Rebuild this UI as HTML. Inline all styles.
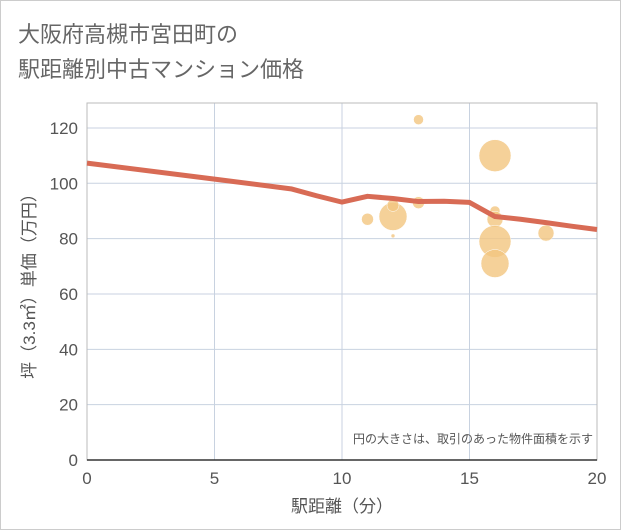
<!DOCTYPE html>
<html><head><meta charset="utf-8"><style>
body{margin:0;background:#fff;}
svg{display:block;font-family:"Liberation Sans","Noto Sans CJK JP",sans-serif;}
</style></head><body>
<svg id="c" width="621" height="530">
<rect x="0.5" y="0.5" width="620" height="529" fill="#fff" stroke="#ccc"/>
<text x="18" y="42" font-size="22" fill="#666">大阪府高槻市宮田町の</text>
<text x="18" y="77" font-size="22" fill="#666">駅距離別中古マンション価格</text>
<g id="grid"></g><g id="bubbles"></g><g id="line"></g><g id="axes"></g>
<text x="593" y="443" font-size="12" fill="#555" text-anchor="end">円の大きさは、取引のあった物件面積を示す</text>
<text x="342" y="512" font-size="17" fill="#555" text-anchor="middle">駅距離（分）</text>
<text transform="translate(35,282) rotate(-90)" font-size="17" fill="#555" text-anchor="middle">坪（3.3㎡）単価（万円）</text>
</svg>
<script>
const xTicks=[0,5,10,15,20];
const yTicks=[0,20,40,60,80,100,120];
const bubbleX=[13,16,11,12,12,13,16,16,16,16,18,12];
const bubbleY=[123,110,87,88,92,93,90,87,79,71,82,81];
const bubbleR=[5,16,6,14,6,6,5,8,16,14,8,2];
const lineX=[0,5,8,9,10,11,12,13,14,15,16,17,18,19,20];
const lineY=[107.3,101.5,98,95.5,93.2,95.3,94.5,93.4,93.5,93.1,88,87,85.8,84.5,83.3];
const NS="http://www.w3.org/2000/svg";
const L=87,R=597,T=103,B=460;
const sx=v=>L+(v-0)/(20-0)*(R-L);
const sy=v=>B-v*2.767;
function mk(tag,attrs,parent){const e=document.createElementNS(NS,tag);for(const k in attrs)e.setAttribute(k,attrs[k]);parent.appendChild(e);return e;}
const grid=document.getElementById('grid'),axes=document.getElementById('axes');
xTicks.forEach(t=>{
 const g=mk('line',{x1:sx(t),x2:sx(t),y1:T,y2:B,stroke:'#c8d2e0','stroke-width':1},grid);
 
 
 const tx=mk('text',{x:sx(t),y:B+24,'font-size':17,fill:'#555','text-anchor':'middle'},axes);
 tx.textContent=t;
 
 
});
yTicks.forEach(t=>{
 const g=mk('line',{x1:L,x2:R,y1:sy(t),y2:sy(t),stroke:'#c8d2e0','stroke-width':1},grid);
 
 
 const tx=mk('text',{x:L-9,y:sy(t)+6,'font-size':17,fill:'#555','text-anchor':'end'},axes);
 tx.textContent=t;
 
 
});
const fr=mk('rect',{x:L,y:T,width:R-L,height:B-T,fill:'none',stroke:'#bbb'},grid);


const ax=mk('line',{x1:L,x2:R,y1:B,y2:B,stroke:'#333','stroke-width':1.5},axes);


const bg=document.getElementById('bubbles');
bubbleX.forEach((x,i)=>{
 const c=mk('circle',{cx:sx(x),cy:sy(bubbleY[i]),r:bubbleR[i],fill:'#f3c57f','fill-opacity':0.8,stroke:'#fff','stroke-width':0.5},bg);
 
 
});
const p=mk('polyline',{points:lineX.map((x,i)=>sx(x)+','+sy(lineY[i])).join(' '),fill:'none',stroke:'#d86b55','stroke-width':5,'stroke-linejoin':'round'},document.getElementById('line'));


</script>
</body></html>
